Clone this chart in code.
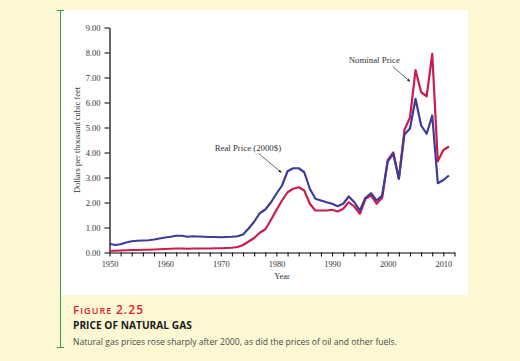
<!DOCTYPE html>
<html>
<head>
<meta charset="utf-8">
<script src="https://cdn.jsdelivr.net/npm/d3@7"></script>
<style>
  body { margin: 0; background: #fdf7d4; }
  svg { display: block; }
</style>
</head>
<body>
<div id="chart"></div>
<script>
const years = d3.range(1950, 2012)

const realPrice = [
  0.35, 0.30, 0.33, 0.40, 0.45, 0.47, 0.48, 0.49, 0.52, 0.56,
  0.60, 0.63, 0.67, 0.67, 0.63, 0.65, 0.64, 0.63, 0.62, 0.62,
  0.61, 0.62, 0.63, 0.65, 0.72, 0.96, 1.23, 1.57, 1.72, 2.00,
  2.35, 2.68, 3.25, 3.37, 3.37, 3.21, 2.55, 2.15, 2.08, 2.01,
  1.95, 1.85, 1.95, 2.24, 2.01, 1.68, 2.19, 2.37, 2.08, 2.28,
  3.65, 3.95, 2.95, 4.72, 4.96, 6.15, 5.08, 4.75, 5.48, 2.77,
  2.90, 3.08
]

const nominalPrice = [
  0.07, 0.07, 0.08, 0.09, 0.10, 0.10, 0.11, 0.11, 0.12, 0.13,
  0.14, 0.15, 0.16, 0.16, 0.15, 0.16, 0.16, 0.16, 0.16, 0.17,
  0.17, 0.18, 0.19, 0.22, 0.30, 0.44, 0.58, 0.79, 0.93, 1.30,
  1.70, 2.08, 2.41, 2.55, 2.61, 2.48, 1.95, 1.68, 1.68, 1.68,
  1.71, 1.64, 1.75, 2.01, 1.84, 1.55, 2.15, 2.28, 1.95, 2.19,
  3.69, 4.00, 2.95, 4.90, 5.40, 7.30, 6.41, 6.25, 7.95, 3.65,
  4.10, 4.24
]

const yTicks = [0, 1, 2, 3, 4, 5, 6, 7, 8, 9]
const xTicks = d3.range(1950, 2013, 2)
const xLabels = [1950, 1960, 1970, 1980, 1990, 2000, 2010]

const width = 520
const height = 361

const svg = d3
  .select('#chart')
  .append('svg')
  .attr('width', width)
  .attr('height', height)

// white chart panel
svg
  .append('rect')
  .attr('x', 61)
  .attr('y', 10)
  .attr('width', 407)
  .attr('height', 285)
  .attr('fill', '#ffffff')

// green side rule with caps
const rule = svg.append('g').attr('stroke', '#3a9a4a').attr('stroke-width', 1)
rule.append('line').attr('x1', 60.5).attr('x2', 60.5).attr('y1', 10).attr('y2', 348)
rule.append('line').attr('x1', 57).attr('x2', 64).attr('y1', 10.5).attr('y2', 10.5)
rule.append('line').attr('x1', 57).attr('x2', 64).attr('y1', 347.5).attr('y2', 347.5)

const xPositionScale = d3
  .scaleLinear()
  .domain([1950, 2012])
  .range([109.5, 454.5])

const yPositionScale = d3
  .scaleLinear()
  .domain([0, 9])
  .range([252.5, 27.5])

const serif = '"Liberation Serif", "DejaVu Serif", serif'
const sans = '"Open Sans", Lato, sans-serif'

// y axis
const yAxis = d3
  .axisLeft(yPositionScale)
  .tickValues(yTicks)
  .tickFormat(d3.format('.2f'))
  .tickSize(5)
  .tickSizeOuter(0)

svg
  .append('g')
  .attr('class', 'axis y-axis')
  .attr('transform', 'translate(109.5,0)')
  .call(yAxis)
  .call(g => g.select('.domain').attr('stroke-width', 1.2))
  .call(g => g.selectAll('text')
    .attr('font-family', serif)
    .attr('font-size', 8.5)
    .attr('fill', '#333')
    .attr('dx', -1))

// x axis, ticks every two years, labels on decades
const xAxis = d3
  .axisBottom(xPositionScale)
  .tickValues(xTicks)
  .tickFormat(d => xLabels.includes(d) ? d : '')
  .tickSize(4)
  .tickSizeOuter(0)

svg
  .append('g')
  .attr('class', 'axis x-axis')
  .attr('transform', 'translate(0,252.5)')
  .call(xAxis)
  .call(g => g.select('.domain').attr('stroke-width', 1.2))
  .call(g => g.selectAll('text')
    .attr('font-family', serif)
    .attr('font-size', 8.3)
    .attr('fill', '#333')
    .attr('dy', '0.85em'))

svg
  .append('text')
  .attr('x', 282)
  .attr('y', 279)
  .attr('text-anchor', 'middle')
  .attr('font-family', serif)
  .attr('font-size', 8.5)
  .attr('fill', '#333')
  .text('Year')

svg
  .append('text')
  .attr('transform', 'translate(80,140) rotate(-90)')
  .attr('text-anchor', 'middle')
  .attr('font-family', serif)
  .attr('font-size', 8.5)
  .attr('fill', '#333')
  .text('Dollars per thousand cubic feet')

// lines
const line = d3
  .line()
  .x(d => xPositionScale(d.year))
  .y(d => yPositionScale(d.value))

const nominalData = years.map((y, i) => ({ year: y, value: nominalPrice[i] }))
const realData = years.map((y, i) => ({ year: y, value: realPrice[i] }))

svg
  .append('path')
  .datum(nominalData)
  .attr('class', 'nominal-line')
  .attr('d', line)
  .attr('fill', 'none')
  .attr('stroke', '#cc1c4e')
  .attr('stroke-width', 2.2)
  .attr('stroke-linejoin', 'round')

svg
  .append('path')
  .datum(realData)
  .attr('class', 'real-line')
  .attr('d', line)
  .attr('fill', 'none')
  .attr('stroke', '#3f3c98')
  .attr('stroke-width', 2.2)
  .attr('stroke-linejoin', 'round')

// annotations
svg
  .append('defs')
  .append('marker')
  .attr('id', 'arrow')
  .attr('viewBox', '0 0 10 10')
  .attr('refX', 9)
  .attr('refY', 5)
  .attr('markerWidth', 5)
  .attr('markerHeight', 5)
  .attr('orient', 'auto')
  .append('path')
  .attr('d', 'M0,1 L10,5 L0,9 z')
  .attr('fill', '#222')

const notes = [
  { label: 'Real Price (2000$)', tx: 1968.9, ty: 4.08, x1: 1976.8, y1: 3.96, x2: 1980.9, y2: 3.2 },
  { label: 'Nominal Price', tx: 1993.0, ty: 7.6, x1: 2000.9, y1: 7.44, x2: 2004.0, y2: 6.84 }
]

notes.forEach(n => {
  svg
    .append('text')
    .attr('x', xPositionScale(n.tx))
    .attr('y', yPositionScale(n.ty))
    .attr('font-family', serif)
    .attr('font-size', 8.8)
    .attr('fill', '#333')
    .text(n.label)

  svg
    .append('line')
    .attr('x1', xPositionScale(n.x1))
    .attr('y1', yPositionScale(n.y1))
    .attr('x2', xPositionScale(n.x2))
    .attr('y2', yPositionScale(n.y2))
    .attr('stroke', '#222')
    .attr('stroke-width', 0.7)
    .attr('marker-end', 'url(#arrow)')
})

// caption
const fig = svg
  .append('text')
  .attr('x', 73)
  .attr('y', 314)
  .attr('font-family', sans)
  .attr('fill', '#d8232e')
  .attr('font-weight', 600)
  .attr('letter-spacing', 1.1)

fig.append('tspan').attr('font-size', 11.5).text('F')
fig.append('tspan').attr('font-size', 9).text('IGURE ')
fig.append('tspan').attr('font-size', 12).text('2.25')

svg
  .append('text')
  .attr('x', 73)
  .attr('y', 328.5)
  .attr('font-family', sans)
  .attr('font-weight', 700)
  .attr('font-size', 10.2)
  .attr('fill', '#1a1a1a')
  .text('PRICE OF NATURAL GAS')

svg
  .append('text')
  .attr('x', 73)
  .attr('y', 344.5)
  .attr('font-family', sans)
  .attr('font-size', 8.6)
  .attr('fill', '#4a4a4a')
  .text('Natural gas prices rose sharply after 2000, as did the prices of oil and other fuels.')
</script>
</body>
</html>
